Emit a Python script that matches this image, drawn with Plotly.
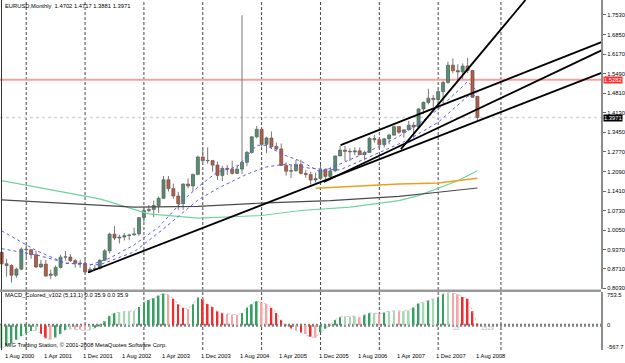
import plotly.graph_objects as go

# ---------------- data ----------------
opens = [0.9285,0.8885,0.8825,0.8490,0.8700,0.9390,0.9375,0.9200,0.8775,0.8875,0.8530,0.8485,0.8760,0.9115,0.9120,0.8995,
         0.8905,0.8900,0.8605,0.8695,0.8725,0.9005,0.9335,0.9915,0.9780,0.9815,0.9865,0.9890,0.9925,1.0490,1.0735,1.0775,
         1.0910,1.1160,1.1805,1.1495,1.1240,1.0975,1.1655,1.1590,1.1990,1.2595,1.2465,1.2470,1.2315,1.1955,1.2200,1.2170,
         1.2025,1.2175,1.2410,1.2755,1.3295,1.3555,1.3035,1.3255,1.2960,1.2875,1.2300,1.2100,1.2125,1.2335,1.2025,1.1985,
         1.1795,1.1845,1.2155,1.1920,1.2115,1.2630,1.2835,1.2790,1.2770,1.2810,1.2680,1.2755,1.3240,1.3195,1.3025,1.3225,
         1.3355,1.3650,1.3455,1.3540,1.3700,1.3635,1.4265,1.4490,1.4635,1.4590,1.4865,1.5185,1.5785,1.5595,1.5550,1.5755,
         1.5600,1.4702]
highs = [0.9300,0.9060,0.8870,0.8750,0.9455,0.9595,0.9385,0.9330,0.9020,0.9015,0.8685,0.8825,0.9200,0.9330,0.9225,0.9060,
         0.9030,0.9020,0.8780,0.8845,0.9045,0.9395,0.9965,1.0195,0.9900,0.9960,0.9930,1.0140,1.0500,1.0850,1.0930,1.1080,
         1.1225,1.1935,1.1935,1.1670,1.1385,1.1680,1.1850,1.2015,1.2645,1.2900,1.2930,1.2495,1.2435,1.2290,1.2320,1.2465,
         1.2325,1.7520,1.2805,1.3330,1.3665,1.3580,1.3300,1.3480,1.3095,1.3065,1.2410,1.2320,1.2490,1.2500,1.2150,1.2080,
         1.2045,1.2325,1.2180,1.2215,1.2640,1.2980,1.2980,1.2900,1.2930,1.2925,1.2815,1.3290,1.3365,1.3270,1.3255,1.3395,
         1.3680,1.3665,1.3545,1.3850,1.3810,1.4280,1.4525,1.4965,1.4750,1.4945,1.5240,1.5905,1.6020,1.5815,1.5845,1.6040,
         1.5625,1.4717]
lows = [0.8845,0.8440,0.8230,0.8400,0.8665,0.9110,0.9060,0.8735,0.8740,0.8440,0.8350,0.8425,0.8730,0.8995,0.8950,0.8750,
        0.8750,0.8565,0.8565,0.8660,0.8690,0.8990,0.9245,0.9705,0.9595,0.9695,0.9705,0.9870,0.9860,1.0335,1.0680,1.0500,
        1.0660,1.1155,1.1395,1.1145,1.0760,1.0765,1.1500,1.1405,1.1960,1.2395,1.2360,1.2085,1.1800,1.1760,1.1975,1.1985,
        1.2000,1.2000,1.2275,1.2710,1.3250,1.2955,1.2725,1.2870,1.2810,1.2295,1.1950,1.1865,1.2075,1.1990,1.1875,1.1640,
        1.1705,1.1800,1.1825,1.1860,1.2070,1.2630,1.2455,1.2455,1.2660,1.2655,1.2480,1.2735,1.3095,1.2865,1.2930,1.3035,
        1.3345,1.3395,1.3265,1.3505,1.3260,1.3565,1.4090,1.4425,1.4330,1.4450,1.4440,1.5140,1.5505,1.5285,1.5305,1.5510,
        1.4665,1.3881]
closes = [0.8885,0.8825,0.8490,0.8700,0.9390,0.9375,0.9200,0.8775,0.8875,0.8460,0.8485,0.8760,0.9115,0.9120,0.8995,0.8905,
          0.8900,0.8605,0.8695,0.8725,0.9005,0.9335,0.9915,0.9780,0.9815,0.9865,0.9890,0.9925,1.0490,1.0735,1.0775,1.0910,
          1.1160,1.1805,1.1495,1.1240,1.0975,1.1655,1.1590,1.1990,1.2595,1.2465,1.2470,1.2315,1.1955,1.2200,1.2170,1.2025,
          1.2175,1.2410,1.2755,1.3295,1.3555,1.3035,1.3255,1.2960,1.2875,1.2300,1.2100,1.2125,1.2335,1.2025,1.1985,1.1795,
          1.1845,1.2155,1.1920,1.2115,1.2630,1.2835,1.2790,1.2770,1.2810,1.2680,1.2755,1.3240,1.3195,1.3025,1.3225,1.3355,
          1.3650,1.3455,1.3540,1.3700,1.3635,1.4265,1.4490,1.4635,1.4590,1.4865,1.5185,1.5785,1.5595,1.5550,1.5755,1.5600,
          1.4670,1.3971]

macd_vals = [-525,-470,-420,-330,-250,-180,-130,-120,-200,-300,-323,-280,-200,-110,-81,-90,-100,-120,-110,-60,-20,
             100,220,283,300,315,324,330,420,527,580,620,680,729,700,608,480,400,365,480,648,600,486,420,324,280,260,
             243,240,280,405,480,551,520,486,400,283,121,20,-81,-120,-170,-202,-260,-283,-162,-80,20,122,190,203,203,
             210,180,243,283,283,250,290,324,330,324,324,340,405,500,527,570,608,650,720,753,740,713,650,608,324,35.9]

# moving averages: (bar index, price)
green_ma_idx = [0, 20, 30, 40, 53, 61, 71, 77, 81, 85, 89, 93, 97]
green_ma_val = [1.1772, 1.1140, 1.0622, 1.0473, 1.0563, 1.0736, 1.0853, 1.1002, 1.1081, 1.1254, 1.1509, 1.1772, 1.2118]
gray_ma_idx = [0, 17, 27, 40, 54, 67, 81, 89, 97]
gray_ma_val = [1.1105, 1.0933, 1.0853, 1.0880, 1.1002, 1.1081, 1.1226, 1.1371, 1.1520]
orange_ma_idx = [64, 71, 81, 89, 97]
orange_ma_val = [1.1510, 1.1578, 1.1658, 1.1692, 1.1855]
fast_ma_idx = [0, 7, 13, 18, 22, 27, 32, 37, 40, 44, 48, 52, 54, 57, 61, 65, 69, 77, 81, 85, 89, 93, 95, 97]
fast_ma_val = [0.9410, 0.9200, 0.8920, 0.8840, 0.9080, 0.9540, 1.0160, 1.1090, 1.1550, 1.2080, 1.2250, 1.3000,
               1.3000, 1.2700, 1.2450, 1.2070, 1.2350, 1.2960, 1.3310, 1.3750, 1.4250, 1.4880, 1.5210, 1.4870]
slow_ma_idx = [0, 7, 13, 20, 27, 33, 40, 44, 50, 54, 58, 63, 69, 77, 83, 89, 95, 97]
slow_ma_val = [1.0030, 0.9350, 0.8900, 0.8850, 0.9300, 1.0100, 1.1100, 1.1500, 1.2000, 1.2250, 1.2350, 1.2200,
               1.2150, 1.2750, 1.3200, 1.3800, 1.4700, 1.4750]

# trendlines: (bar index, price) pairs
trendlines = [
    ([17.6, 122.3], [0.8584, 1.5516]),
    ([69.1, 122.3], [1.3005, 1.6587]),
    ([65.7, 122.3], [1.1727, 1.6297]),
    ([81.4, 106.8], [1.2870, 1.8048]),
]

price_ticks = [1.7530, 1.6850, 1.6170, 1.5490, 1.4810, 1.4130, 1.3450, 1.2770, 1.2090, 1.1410, 1.0730, 1.0050, 0.9370, 0.8710, 0.8030]
date_idx = [0, 8, 16, 24, 32, 40, 48, 56, 64, 72, 80, 88, 96]
date_labels = ["1 Aug 2000", "1 Apr 2001", "1 Dec 2001", "1 Aug 2002", "1 Apr 2003", "1 Dec 2003", "1 Aug 2004",
               "1 Apr 2005", "1 Dec 2005", "1 Aug 2006", "1 Apr 2007", "1 Dec 2007", "1 Aug 2008"]
grid_idx = [5, 17, 29, 41, 53, 65, 77, 89, 101.8]
level_price = 1.5282
bid_price = 1.3971

# ---------------- figure ----------------
W, H = 625, 363
PX = 4.92          # pixels per bar
X0 = 1.7           # pixel of bar 0
AX = 603           # pixel of price axis
xr = [-X0 / PX, (AX - X0) / PX]
FONT = "Liberation Sans"
FS = 5.8

idx = list(range(len(closes)))
fig = go.Figure()

# wicks
wx, wy = [], []
for i in idx:
    wx += [i, i, None]
    wy += [lows[i], highs[i], None]
fig.add_trace(go.Scatter(x=wx, y=wy, mode="lines", line=dict(color="#777777", width=1),
                         hoverinfo="skip", showlegend=False))
# bodies
body_h, body_b, body_c = [], [], []
for i in idx:
    o, c = opens[i], closes[i]
    body_b.append(min(o, c))
    body_h.append(max(abs(c - o), 0.0012))
    body_c.append("#3ba56f" if c >= o else "#f2481b")
fig.add_trace(go.Bar(x=idx, y=body_h, base=body_b, width=0.62,
                     marker=dict(color=body_c, line=dict(color="#404040", width=0.6)),
                     hoverinfo="skip", showlegend=False))

def line_tr(xs, ys, color, width, dash="solid", xa="x", ya="y"):
    fig.add_trace(go.Scatter(x=xs, y=ys, mode="lines", line=dict(color=color, width=width, dash=dash),
                             hoverinfo="skip", showlegend=False, xaxis=xa, yaxis=ya))

line_tr(green_ma_idx, green_ma_val, "#6fd3a0", 1.2)
line_tr(gray_ma_idx, gray_ma_val, "#4a4a4a", 1.1)
line_tr(orange_ma_idx, orange_ma_val, "#e8a11c", 1.5)
line_tr(fast_ma_idx, fast_ma_val, "#5a5af0", 1, "dot")
line_tr(slow_ma_idx, slow_ma_val, "#5a5af0", 1, "dot")
for tx, ty in trendlines:
    line_tr(tx, ty, "#000000", 1.8)

# MACD colours: rising green / falling red, pale when the change is small
mcol = []
for i, v in enumerate(macd_vals):
    prev = macd_vals[i - 1] if i > 0 else v
    d = v - prev
    if d >= 0:
        mcol.append("#35a060" if d >= 40 else "#a6d9b2")
    else:
        mcol.append("#f02c2c" if d <= -40 else "#f6a5a5")
fig.add_trace(go.Bar(x=idx, y=macd_vals, width=0.35, marker=dict(color=mcol, line=dict(width=0)),
                     hoverinfo="skip", showlegend=False, xaxis="x2", yaxis="y2"))
line_tr(idx, macd_vals, "#c8c8c8", 1, "dot", "x2", "y2")

main_top, main_bot = 0, 291
m_top, m_bot = 294, 352
ppx = 289.5
y_hi = 1.7530 + 15 / ppx
y_lo = 1.7530 - (main_bot - 15) / ppx

fig.update_layout(
    width=W, height=H, margin=dict(l=0, r=0, t=0, b=0),
    paper_bgcolor="white", plot_bgcolor="white", barmode="overlay",
    showlegend=False,
    xaxis=dict(domain=[0, AX / W], range=xr, visible=False, fixedrange=True),
    xaxis2=dict(domain=[0, AX / W], range=xr, visible=False, anchor="y2", fixedrange=True),
    yaxis=dict(domain=[1 - main_bot / H, 1], range=[y_lo, y_hi], side="right", anchor="x",
               tickvals=price_ticks, ticktext=[f"{v:.4f}" for v in price_ticks],
               ticks="outside", ticklen=3, tickcolor="#666", showline=True, linecolor="#8c8c8c", linewidth=2,
               showgrid=False, zeroline=False, tickfont=dict(family=FONT, size=FS, color="#000")),
    yaxis2=dict(domain=[1 - m_bot / H, 1 - m_top / H], range=[-567.7, 753.5], side="right", anchor="x2",
                showticklabels=False, ticks="", showline=True, linecolor="#8c8c8c", linewidth=2,
                showgrid=False, zeroline=False),
    font=dict(family=FONT, size=FS, color="#000"),
)

shapes = []
for g in grid_idx:
    shapes.append(dict(type="line", xref="x", yref="paper", x0=g, x1=g, y0=1 - m_bot / H, y1=1,
                       line=dict(color="#444", width=1, dash="3px,2px"), layer="below"))
shapes.append(dict(type="line", xref="paper", yref="paper", x0=1.5 / W, x1=1.5 / W, y0=1 - m_bot / H, y1=1,
                   line=dict(color="#333", width=1)))
shapes.append(dict(type="line", xref="paper", yref="paper", x0=0, x1=AX / W, y0=1 - 292.3 / H, y1=1 - 292.3 / H,
                   line=dict(color="#9a9a9a", width=2.5)))
shapes.append(dict(type="line", xref="paper", yref="y", x0=0, x1=AX / W, y0=level_price, y1=level_price,
                   line=dict(color="#f5a0a0", width=2), layer="below"))
shapes.append(dict(type="line", xref="paper", yref="y", x0=0, x1=AX / W, y0=bid_price, y1=bid_price,
                   line=dict(color="#d4d4d4", width=1.5, dash="dot"), layer="below"))
shapes.append(dict(type="line", xref="paper", yref="y2", x0=0, x1=AX / W, y0=0, y1=0,
                   line=dict(color="#808080", width=3, dash="2px,2px"), layer="below"))
fig.update_layout(shapes=shapes)

ann = []
def txt(x, y, s, color="#000", xref="paper", yref="paper", **kw):
    ann.append(dict(x=x, y=y, xref=xref, yref=yref, text=s, showarrow=False, xanchor="left",
                    yanchor="middle", font=dict(family=FONT, size=FS, color=color), **kw))

txt(3 / W, 1 - 6 / H, "EURUSD,Monthly  1.4702 1.4717 1.3881 1.3971")
txt(3 / W, 1 - 297 / H, "MACD_Colored_v102 (5,13,1) 0.0 35.9 0.0 35.9")
txt(3 / W, 1 - 347 / H, "MIG Trading Station, © 2001-2008 MetaQuotes Software Corp.")
txt(452 / W, 1 - 330 / H, "18", color="#b8b8b8")
txt(481 / W, 1 - 330 / H, "1529", color="#b8b8b8")
txt(607 / W, 1 - 297 / H, "753.5")
txt(607 / W, 1 - 327 / H, "0")
txt(607 / W, 1 - 349 / H, "-567.7")
for i, lab in zip(date_idx, date_labels):
    ann.append(dict(x=i, y=1 - 358 / H, xref="x", yref="paper", text=lab, showarrow=False, xanchor="left",
                    yanchor="middle", xshift=1, font=dict(family=FONT, size=FS, color="#000")))
ann.append(dict(x=605 / W, y=level_price, xref="paper", yref="y", text="1.5282", showarrow=False, xanchor="left",
                yanchor="middle", bgcolor="#ff2a2a", borderpad=0, font=dict(family=FONT, size=FS, color="white")))
ann.append(dict(x=605 / W, y=bid_price, xref="paper", yref="y", text="1.3971", showarrow=False, xanchor="left",
                yanchor="middle", yshift=-1, bgcolor="#000000", borderpad=0, font=dict(family=FONT, size=FS, color="white")))
fig.update_layout(annotations=ann)

fig.write_html("out.html")
